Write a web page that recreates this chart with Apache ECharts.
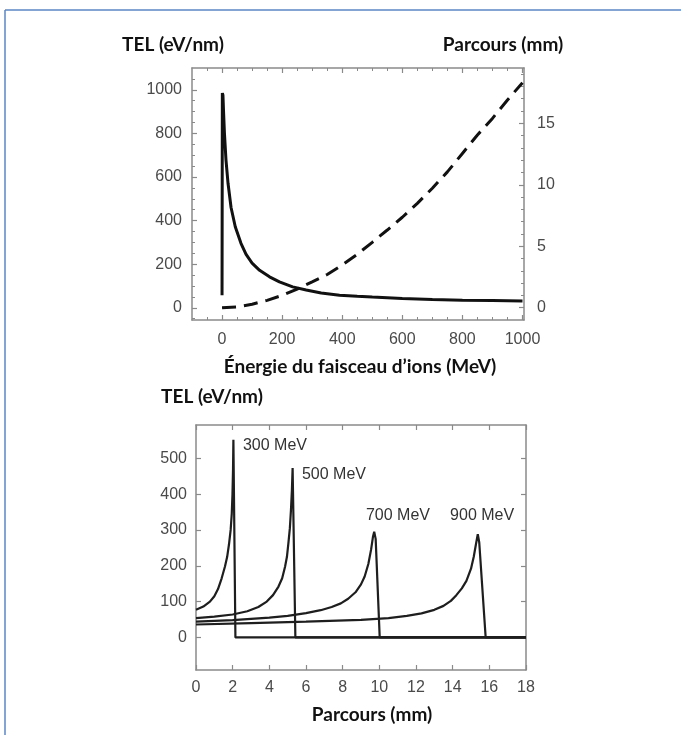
<!DOCTYPE html>
<html>
<head>
<meta charset="utf-8">
<script src="https://cdn.jsdelivr.net/npm/echarts@6/dist/echarts.min.js"></script>
<style>
  html, body { margin: 0; padding: 0; background: #fff; }
  #chart { width: 681px; height: 735px; }
</style>
</head>
<body>
<div id="chart"></div>
<script>
// top panel: TEL and range against beam energy
const energyMeV = [0, 1, 3, 5, 8, 13, 20, 30, 44, 63, 80, 100, 125, 158, 191, 235, 280, 330, 391, 450, 500, 600, 700, 800, 900, 1000];
const telByEnergy = [58, 985, 975, 900, 800, 680, 570, 460, 372, 296, 245, 205, 172, 142, 119, 96, 82, 68, 58, 53, 49, 43, 38, 35, 33, 31];
const rangeEnergy = [0, 50, 100, 150, 200, 250, 300, 350, 400, 450, 500, 550, 600, 650, 700, 750, 800, 850, 900, 950, 1000];
const rangeMm = [0, 0.07, 0.28, 0.6, 1.0, 1.52, 2.1, 2.7, 3.47, 4.35, 5.32, 6.32, 7.36, 8.49, 9.72, 11.05, 12.55, 14.05, 15.4, 16.9, 18.3];

// bottom panel: Bragg curves (depth in mm, TEL in eV/nm)
const depth300 = [0, 0.4, 0.76, 1.0, 1.2, 1.4, 1.58, 1.7, 1.8, 1.89, 1.95, 1.99, 2.02, 2.04, 2.15, 18];
const tel300 = [77, 86, 100, 115, 135, 165, 198, 225, 260, 300, 345, 400, 470, 552, 0, 0];
const depth500 = [0, 1, 2, 2.8, 3.4, 3.86, 4.2, 4.5, 4.7, 4.86, 4.96, 5.04, 5.12, 5.18, 5.23, 5.27, 5.42, 18];
const tel500 = [54, 58, 64, 73, 85, 100, 118, 142, 165, 198, 225, 263, 305, 356, 410, 473, 0, 0];
const depth700 = [0, 2, 4, 5, 6, 6.8, 7.4, 7.9, 8.3, 8.7, 9.0, 9.2, 9.4, 9.55, 9.65, 9.72, 9.8, 10.02, 18];
const tel700 = [44, 48, 55, 60, 68, 76, 85, 95, 108, 126, 148, 170, 205, 245, 280, 295, 275, 0, 0];
const depth900 = [0, 3, 6, 9, 10.5, 11.5, 12.3, 13, 13.5, 13.9, 14.2, 14.5, 14.75, 15.0, 15.15, 15.27, 15.37, 15.45, 15.8, 18];
const tel900 = [36, 40, 44, 49, 54, 60, 67, 77, 88, 102, 118, 137, 158, 192, 225, 260, 288, 265, 0, 0];
const beamLabels = ['300 MeV', '500 MeV', '700 MeV', '900 MeV'];

// ticks
const energyTicks = [0, 200, 400, 600, 800, 1000];
const energyMinorTicks = [-50, 50, 100, 150, 250, 300, 350, 450, 500, 550, 650, 700, 750, 850, 900, 950];
const telTopTicks = [0, 200, 400, 600, 800, 1000];
const telTopMinorTicks = [-50, 50, 100, 150, 250, 300, 350, 450, 500, 550, 650, 700, 750, 850, 900, 950, 1050];
const rangeTicks = [0, 5, 10, 15];
const rangeMinorTicks = [1, 2, 3, 4, 6, 7, 8, 9, 11, 12, 13, 14, 16, 17, 18, 19];
const depthTicks = [0, 2, 4, 6, 8, 10, 12, 14, 16, 18];
const telBottomTicks = [0, 100, 200, 300, 400, 500];

const zip = (xs, ys) => xs.map((x, i) => [x, ys[i]]);

const boxColor = '#8a8a8a';
const tickFont = { color: '#4a4a4a', fontSize: 16, fontFamily: 'Liberation Sans, Arial, sans-serif' };
const titleFont = 'bold 19px Lato, "Open Sans", sans-serif';

// one axis of the frame: line, major ticks and (optionally) labels
function frameAxis(gridIndex, position, min, max, ticks, showLabels, margin) {
  return {
    type: 'value', gridIndex, position, min, max,
    axisLine: { show: true, onZero: false, lineStyle: { color: boxColor, width: 1.5 } },
    axisTick: { show: true, inside: true, length: 5, customValues: ticks, lineStyle: { color: boxColor, width: 1.2 } },
    axisLabel: Object.assign({ show: showLabels, margin, customValues: ticks, formatter: v => String(v) }, tickFont),
    splitLine: { show: false }
  };
}

// overlapping axis that only draws the short ticks
function minorAxis(gridIndex, position, min, max, ticks) {
  return {
    type: 'value', gridIndex, position, min, max,
    axisLine: { show: false, onZero: false },
    axisTick: { show: true, inside: true, length: 3, customValues: ticks, lineStyle: { color: boxColor, width: 1 } },
    axisLabel: { show: false },
    splitLine: { show: false }
  };
}

function bragg(xs, ys, name, coord) {
  return {
    type: 'line', xAxisIndex: 4, yAxisIndex: 4,
    data: zip(xs, ys),
    symbol: 'none', silent: true,
    lineStyle: { color: '#1e1e1e', width: 2.2 },
    markPoint: {
      symbol: 'circle', symbolSize: 0, silent: true,
      label: { show: true, position: 'right', distance: 0, formatter: name, color: '#333', fontSize: 16, fontFamily: 'Liberation Sans, Arial, sans-serif' },
      data: [{ coord }]
    }
  };
}

const chart = echarts.init(document.getElementById('chart'));
chart.setOption({
  animation: false,
  backgroundColor: '#fff',
  grid: [
    { left: 192, top: 68, width: 332, height: 252, outerBoundsMode: 'none' },
    { left: 196, top: 425, width: 330, height: 245, outerBoundsMode: 'none' }
  ],
  xAxis: [
    frameAxis(0, 'bottom', -100, 1005, energyTicks, true, 12),
    minorAxis(0, 'bottom', -100, 1005, energyMinorTicks),
    frameAxis(0, 'top', -100, 1005, energyTicks, false, 8),
    minorAxis(0, 'top', -100, 1005, energyMinorTicks),
    frameAxis(1, 'bottom', 0, 18, depthTicks, true, 10),
    frameAxis(1, 'top', 0, 18, depthTicks, false, 8)
  ],
  yAxis: [
    frameAxis(0, 'left', -56, 1100, telTopTicks, true, 10),
    minorAxis(0, 'left', -56, 1100, telTopMinorTicks),
    frameAxis(0, 'right', -1, 19.5, rangeTicks, true, 13),
    minorAxis(0, 'right', -1, 19.5, rangeMinorTicks),
    frameAxis(1, 'left', -91, 593, telBottomTicks, true, 9),
    frameAxis(1, 'right', -91, 593, telBottomTicks, false, 8)
  ],
  series: [
    {
      name: 'TEL', type: 'line', xAxisIndex: 0, yAxisIndex: 0,
      data: zip(energyMeV, telByEnergy),
      symbol: 'none', silent: true,
      lineStyle: { color: '#111', width: 3 }
    },
    {
      name: 'Parcours', type: 'line', xAxisIndex: 0, yAxisIndex: 2,
      data: zip(rangeEnergy, rangeMm),
      symbol: 'none', silent: true,
      lineStyle: { color: '#111', width: 3, type: [14, 8] }
    },
    bragg(depth300, tel300, beamLabels[0], [2.56, 535]),
    bragg(depth500, tel500, beamLabels[1], [5.78, 454]),
    bragg(depth700, tel700, beamLabels[2], [9.27, 340]),
    bragg(depth900, tel900, beamLabels[3], [13.86, 340])
  ],
  graphic: [
    { type: 'line', shape: { x1: 5, y1: 10, x2: 681, y2: 10 }, style: { stroke: '#5b87c5', lineWidth: 1.5 } },
    { type: 'line', shape: { x1: 5, y1: 10, x2: 5, y2: 735 }, style: { stroke: '#5b87c5', lineWidth: 1.5 } },
    { type: 'text', x: 173, y: 45, style: { text: 'TEL (eV/nm)', font: titleFont, fill: '#111', textAlign: 'center', textVerticalAlign: 'middle' } },
    { type: 'text', x: 503, y: 45, style: { text: 'Parcours (mm)', font: titleFont, fill: '#111', textAlign: 'center', textVerticalAlign: 'middle' } },
    { type: 'text', x: 360, y: 367, style: { text: 'Énergie du faisceau d’ions (MeV)', font: titleFont, fill: '#111', textAlign: 'center', textVerticalAlign: 'middle' } },
    { type: 'text', x: 212, y: 397, style: { text: 'TEL (eV/nm)', font: titleFont, fill: '#111', textAlign: 'center', textVerticalAlign: 'middle' } },
    { type: 'text', x: 372, y: 715, style: { text: 'Parcours (mm)', font: titleFont, fill: '#111', textAlign: 'center', textVerticalAlign: 'middle' } }
  ]
});
</script>
</body>
</html>
